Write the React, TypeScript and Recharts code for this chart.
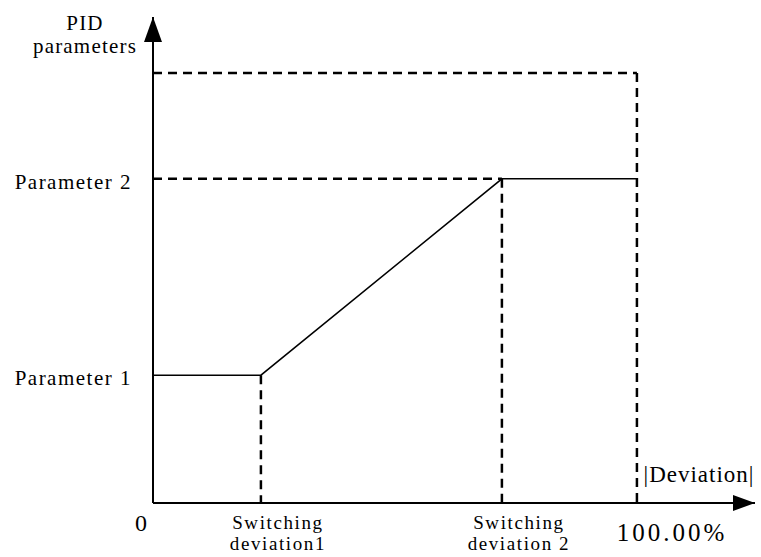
import { LineChart, Line, XAxis, YAxis, ReferenceLine, ReferenceDot } from "recharts";

// deviation positions (% of full scale) and parameter levels
const X_MAX = 124.4;
const Y_MAX = 100;
const SWITCH_1 = 22.3;
const SWITCH_2 = 72.1;
const FULL = 100;
const PARAM_1 = 26.3;
const PARAM_2 = 66.7;
const TOP_LEVEL = 88.5;

const curveX = [0, SWITCH_1, SWITCH_2, FULL];
const curveY = [PARAM_1, PARAM_1, PARAM_2, PARAM_2];

const xTicks = [0, SWITCH_1, SWITCH_2, FULL];
const xTickLabels: Record<number, string[]> = {
  0: ["0"],
  [SWITCH_1]: ["Switching", "deviation1"],
  [SWITCH_2]: ["Switching", "deviation 2"],
  [FULL]: ["100.00%"],
};
const yTicks = [PARAM_1, PARAM_2, Y_MAX];
const yTickLabels: Record<number, string[]> = {
  [PARAM_1]: ["Parameter 1"],
  [PARAM_2]: ["Parameter 2"],
  [Y_MAX]: ["PID", "parameters"],
};

const data = curveX.map((x, i) => ({ x, y: curveY[i] }));

const FONT = "'Liberation Serif', 'Times New Roman', serif";
const DASH = "9 6";

function XTick({ x, y, payload }: any) {
  const lines = xTickLabels[payload.value] || [];
  if (payload.value === 0) {
    return (
      <text x={x - 12} y={y + 20} textAnchor="middle" style={{ fontFamily: FONT }} fontSize={24} fill="#000">
        0
      </text>
    );
  }
  if (payload.value === FULL) {
    return (
      <text x={x + 35} y={y + 30} textAnchor="middle" style={{ fontFamily: FONT }} fontSize={25} letterSpacing={3} fill="#000">
        {lines[0]}
      </text>
    );
  }
  return (
    <g>
      {lines.map((l, i) => (
        <text key={i} x={x + 17} y={y + 18 + i * 21} textAnchor="middle" style={{ fontFamily: FONT }} fontSize={19} letterSpacing={1.6} fill="#000">
          {l}
        </text>
      ))}
    </g>
  );
}

function YTick({ x, y, payload }: any) {
  const lines = yTickLabels[payload.value] || [];
  if (payload.value === Y_MAX) {
    return (
      <g>
        {lines.map((l, i) => (
          <text key={i} x={85} y={y + 13 + i * 23} textAnchor="middle" style={{ fontFamily: FONT }} fontSize={21} letterSpacing={1.2} fill="#000">
            {l}
          </text>
        ))}
      </g>
    );
  }
  return (
    <text x={x - 13} y={y + 10} textAnchor="end" style={{ fontFamily: FONT }} fontSize={21} letterSpacing={1.5} fill="#000">
      {lines[0]}
    </text>
  );
}

const arrowRight = ({ cx, cy }: any) => (
  <path d={`M${cx},${cy} L${cx - 22},${cy - 8} L${cx - 22},${cy + 8} Z`} fill="#000" />
);
const arrowUp = ({ cx, cy }: any) => (
  <path d={`M${cx},${cy} L${cx - 9},${cy + 25} L${cx + 9},${cy + 25} Z`} fill="#000" />
);

export default function App() {
  return (
    <div style={{ position: "absolute", left: 0, top: 0, background: "#fff" }}>
      <LineChart width={761} height={557} data={data} margin={{ top: 17, right: 6, bottom: 0, left: 0 }}>
        <XAxis
          type="number"
          dataKey="x"
          domain={[0, X_MAX]}
          ticks={xTicks}
          tick={<XTick />}
          tickLine={false}
          axisLine={{ stroke: "#000", strokeWidth: 2 }}
          height={54}
          allowDataOverflow
          label={({ viewBox }: any) => (
            <text x={viewBox.x + 546} y={viewBox.y - 21} textAnchor="middle" style={{ fontFamily: FONT }} fontSize={23} letterSpacing={1} fill="#000">
              |Deviation|
            </text>
          )}
        />
        <YAxis
          type="number"
          domain={[0, Y_MAX]}
          ticks={yTicks}
          tick={<YTick />}
          tickLine={false}
          axisLine={{ stroke: "#000", strokeWidth: 2 }}
          width={153}
          allowDataOverflow
        />
        <ReferenceLine segment={[{ x: 0, y: TOP_LEVEL }, { x: FULL, y: TOP_LEVEL }]} stroke="#000" strokeWidth={2.5} strokeDasharray={DASH} ifOverflow="visible" />
        <ReferenceLine segment={[{ x: 0, y: PARAM_2 }, { x: SWITCH_2, y: PARAM_2 }]} stroke="#000" strokeWidth={2.5} strokeDasharray={DASH} ifOverflow="visible" />
        <ReferenceLine segment={[{ x: FULL, y: TOP_LEVEL }, { x: FULL, y: 0 }]} stroke="#000" strokeWidth={2.5} strokeDasharray={DASH} ifOverflow="visible" />
        <ReferenceLine segment={[{ x: SWITCH_2, y: PARAM_2 }, { x: SWITCH_2, y: 0 }]} stroke="#000" strokeWidth={2.5} strokeDasharray={DASH} ifOverflow="visible" />
        <ReferenceLine segment={[{ x: SWITCH_1, y: PARAM_1 }, { x: SWITCH_1, y: 0 }]} stroke="#000" strokeWidth={2.5} strokeDasharray={DASH} ifOverflow="visible" />
        <Line type="linear" dataKey="y" stroke="#000" strokeWidth={1.5} dot={false} isAnimationActive={false} />
        <ReferenceDot x={X_MAX} y={0} r={8} shape={arrowRight} ifOverflow="visible" />
        <ReferenceDot x={0} y={Y_MAX} r={8} shape={arrowUp} ifOverflow="visible" />
      </LineChart>
    </div>
  );
}
